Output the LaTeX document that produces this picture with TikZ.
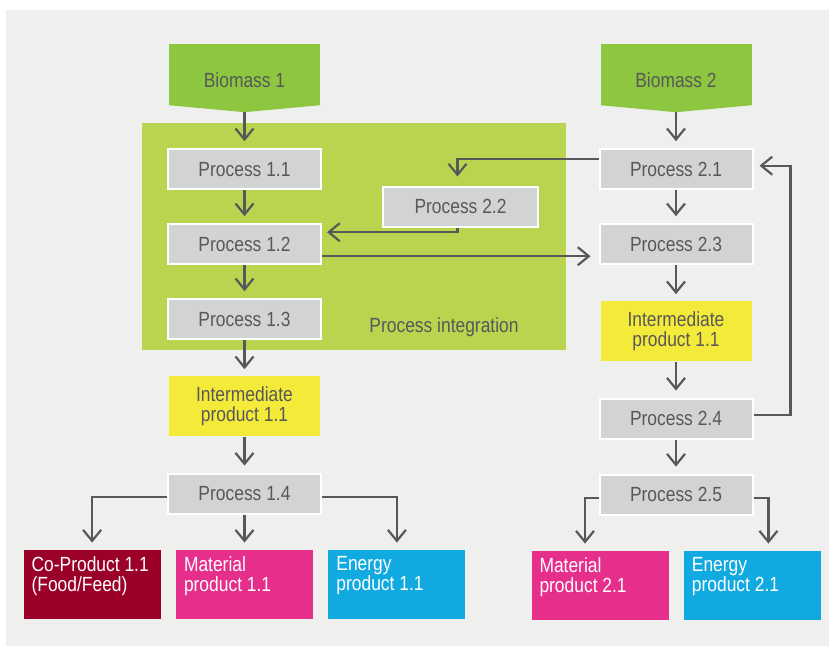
\documentclass[tikz,border=0pt]{standalone}
\usepackage{fontspec}
\setmainfont{Liberation Sans}[FakeStretch=0.85]
\usepackage{xcolor}
\usetikzlibrary{arrows.meta,positioning}
\definecolor{colorBg}{HTML}{EFEFED}
\definecolor{colorBio}{HTML}{8DC63F}
\definecolor{colorInt}{HTML}{B9D54F}
\definecolor{colorProc}{HTML}{D2D3D5}
\definecolor{colorMid}{HTML}{F4EA3A}
\definecolor{colorCo}{HTML}{9B0029}
\definecolor{colorMat}{HTML}{E62E8B}
\definecolor{colorEn}{HTML}{10AAE1}
\definecolor{colorTxt}{HTML}{58585A}

\begin{document}
\begin{tikzpicture}[x=1pt,y=-1pt,node distance=35pt,>={Straight Barb[length=11pt,width=18pt]},every node/.append style={align=center,text=colorTxt,font=\fontsize{20.5}{20}\selectfont},bio/.style={fill=colorBio,minimum width=151pt,minimum height=61pt,inner sep=0pt,text height=26pt,text depth=0pt},proc/.style={fill=colorProc,draw=white,line width=2pt,minimum width=153pt,minimum height=40pt,inner sep=0pt},mid/.style={fill=colorMid,minimum width=151pt,minimum height=60pt,inner sep=0pt},prod/.style={minimum width=137pt,minimum height=69pt,inner sep=0pt},prodtxt/.style={anchor=north west,align=left,text=white,inner xsep=8pt,inner ysep=7pt},arr/.style={->,draw=colorTxt,line width=2.2pt,shorten >=7pt}]
    \useasboundingbox (0,0) rectangle (829,646);
    \fill [colorBg] (6,10) rectangle (829,646);
    \node [fill=colorInt, minimum width=424pt, minimum height=227pt] (integ) at (354,236.5) {};
    \node (integlbl) at (444,327.5) {Process integration};
    % first chain
    \node [bio] (b1) at (244.5,74.5) {Biomass 1};
    \coordinate (b1tip) at ([yshift=-7pt]b1.south);
    \fill [colorBio] (b1.south west) -- (b1tip) -- (b1.south east) -- cycle;
    \node [proc, below=43pt of b1] (p11) {Process 1.1};
    \node [proc, below=33pt of p11] (p12) {Process 1.2};
    \node [proc, below=33pt of p12] (p13) {Process 1.3};
    \node [mid, below=36pt of p13] (midL) {Intermediate\\product 1.1};
    \node [proc, below=36pt of midL] (p14) {Process 1.4};
    \node [prod, below=35pt of p14, fill=colorMat, label={[prodtxt]north west:{Material\\product 1.1}}] (mat11) {};
    \node [prod, left=15pt of mat11, fill=colorCo, label={[prodtxt]north west:{Co-Product 1.1\\(Food/Feed)}}] (co11) {};
    \node [prod, right=15pt of mat11, fill=colorEn, label={[prodtxt]north west:{Energy\\product 1.1}}] (en11) {};
    % second chain
    \node [bio] (b2) at (676,74.5) {Biomass 2};
    \coordinate (b2tip) at ([yshift=-7pt]b2.south);
    \fill [colorBio] (b2.south west) -- (b2tip) -- (b2.south east) -- cycle;
    \node [proc, below=43pt of b2] (p21) {Process 2.1};
    \node [proc, minimum width=155pt] (p22) at (460.5,206.5) {Process 2.2};
    \node [proc, below=33pt of p21] (p23) {Process 2.3};
    \node [mid, below=36pt of p23] (midR) {Intermediate\\product 1.1};
    \node [proc, below=36pt of midR] (p24) {Process 2.4};
    \node [proc, below=34pt of p24] (p25) {Process 2.5};
    \node [prod, below=35pt of p25, xshift=-76pt, fill=colorMat, label={[prodtxt]north west:{Material\\product 2.1}}] (mat21) {};
    \node [prod, right=15pt of mat21, fill=colorEn, label={[prodtxt]north west:{Energy\\product 2.1}}] (en21) {};
    % flows
    \draw [arr] (b1tip) -- (p11);
    \draw [arr] (p11) -- (p12);
    \draw [arr] (p12) -- (p13);
    \draw [arr] (p13) -- (midL);
    \draw [arr] (midL) -- (p14);
    \draw [arr] (p14) -- (mat11);
    \draw [arr] ([yshift=-3pt]p14.west) -| (co11);
    \draw [arr] ([yshift=-3pt]p14.east) -| (en11);
    \draw [arr] (b2tip) -- (p21);
    \draw [arr] (p21) -- (p23);
    \draw [arr] (p23) -- (midR);
    \draw [arr] (midR) -- (p24);
    \draw [arr] (p24) -- (p25);
    \draw [arr] ([yshift=-3pt]p25.west) -| ([xshift=-15pt]mat21.north);
    \draw [arr] ([yshift=-3pt]p25.east) -| ([xshift=16pt]en21.north);
    \draw [arr, shorten >=9pt] ([yshift=10pt]p21.west) -| ([xshift=-3pt]p22.north);
    \draw [arr, shorten >=5pt] ([xshift=-3pt]p22.south) |- ([yshift=12pt]p12.east);
    \draw [arr, shorten >=8pt] ([yshift=-12pt]p12.east) -- ([yshift=-12pt]p23.west);
    \draw [arr, shorten >=6pt] ([yshift=4pt]p24.east) -- ++(37,0) |- ([yshift=3.5pt]p21.east);
\end{tikzpicture}
\end{document}
